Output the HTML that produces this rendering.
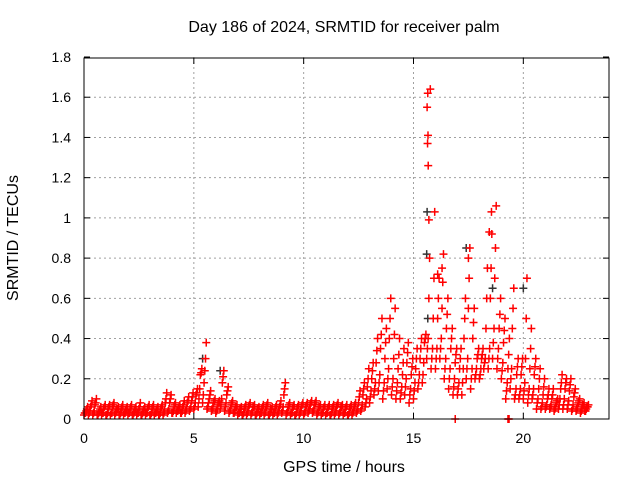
<!DOCTYPE html>
<html><head><meta charset="utf-8"><style>
html,body{margin:0;padding:0;background:#fff}
svg{display:block;font-family:"Liberation Sans",sans-serif}
</style></head><body>
<svg id="chart" width="640" height="480" viewBox="0 0 640 480" xmlns="http://www.w3.org/2000/svg">
<rect width="640" height="480" fill="#fff"/>
<text x="344" y="32" font-size="16" text-anchor="middle" fill="#000">Day 186 of 2024, SRMTID for receiver palm</text>
<g id="grid"></g>
<g id="axes"></g>
<g id="marks"></g>
<rect x="84" y="58" width="525" height="361" fill="none" stroke="#000" stroke-width="1"/>
<text transform="translate(18,238) rotate(-90)" font-size="16" text-anchor="middle">SRMTID / TECUs</text>
<text x="344" y="472" font-size="16" text-anchor="middle">GPS time / hours</text>
</svg>
<script>
const xTicks=[0,5,10,15,20];
const yTicks=[0,0.2,0.4,0.6,0.8,1,1.2,1.4,1.6,1.8];
const yTickLabels=["0","0.2","0.4","0.6","0.8","1","1.2","1.4","1.6","1.8"];
const binStart=0, binStep=0.2;
const lo=[.02,.02,.02,.02,.02, .02,.02,.02,.02,.02, .02,.02,.02,.02,.02, .02,.02,.02,.02,.03, .03,.03,.03,.03,.04,
.05,.06,.08,.05,.04, .03,.05,.04,.03,.03, .02,.02,.02,.02,.02, .02,.02,.02,.02,.02, .03,.02,.02,.02,.02,
.02,.03,.03,.02,.02, .02,.02,.02,.02,.02, .02,.02,.03,.04,.06, .08,.12,.14,.10,.15, .12,.10,.10,.12,.08,
.10,.15,.18,.30,.25, .25,.30,.20,.15,.12, .12,.12,.20,.15,.20, .20,.25,.25,.30,.25, .20,.10,.15,.10,.10,
.10,.08,.10,.05,.05, .05,.05,.04,.05,.05, .05,.04,.04,.03,.04];
const m1=[.03,.03,.03,.02,.03, .02,.03,.03,.02,.03, .03,.02,.03,.02,.03, .02,.03,.02,.03,.04, .03,.04,.03,.04,.05,
.06,.10,.12,.06,.05, .04,.07,.06,.04,.03, .03,.02,.03,.03,.02, .03,.03,.02,.03,.03, .04,.03,.03,.02,.03,
.03,.04,.04,.03,.03, .03,.02,.03,.03,.03, .02,.03,.04,.05,.08, .11,.15,.18,.14,.20, .16,.14,.13,.16,.12,
.14,.18,.22,.35,.30, .30,.35,.25,.20,.16, .15,.18,.25,.20,.22, .22,.28,.30,.38,.30, .24,.14,.20,.12,.12,
.14,.12,.12,.08,.06, .06,.06,.05,.07,.07, .07,.05,.05,.04,.04];
const q1=[.03,.04,.04,.03,.03, .03,.03,.04,.03,.03, .03,.03,.03,.03,.03, .03,.03,.03,.04,.05, .04,.04,.04,.05,.06,
.08,.15,.18,.08,.06, .05,.10,.08,.05,.04, .03,.03,.04,.04,.03, .03,.04,.03,.03,.04, .06,.04,.03,.03,.04,
.04,.05,.05,.04,.03, .03,.03,.04,.04,.03, .03,.04,.05,.07,.10, .14,.18,.22,.18,.25, .20,.18,.16,.20,.15,
.18,.22,.28,.40,.35, .35,.40,.30,.25,.20, .18,.25,.30,.25,.25, .25,.30,.35,.45,.35, .28,.18,.25,.15,.15,
.18,.15,.15,.10,.08, .07,.07,.06,.10,.10, .09,.07,.06,.05,.05];
const q2=[.04,.06,.07,.04,.05, .05,.06,.05,.05,.04, .05,.04,.05,.04,.05, .05,.04,.05,.08,.08, .06,.05,.06,.08,.09,
.12,.22,.24,.10,.08, .07,.18,.12,.07,.06, .05,.05,.06,.06,.05, .05,.06,.05,.05,.06, .12,.06,.05,.05,.06,
.06,.07,.07,.06,.05, .05,.05,.06,.06,.05, .05,.06,.08,.12,.16, .20,.28,.35,.30,.40, .30,.25,.22,.28,.22,
.25,.30,.38,.60,.50, .50,.55,.45,.35,.28, .25,.40,.55,.40,.30, .30,.45,.60,.70,.45, .38,.25,.45,.22,.22,
.30,.25,.22,.15,.12, .10,.10,.08,.15,.15, .14,.11,.08,.07,.06];
const m2=[.05,.07,.08,.05,.06, .06,.07,.05,.06,.05, .06,.05,.06,.05,.06, .06,.05,.06,.10,.10, .07,.06,.07,.09,.11,
.13,.23,.30,.12,.09, .08,.21,.14,.08,.06, .05,.06,.07,.06,.05, .06,.07,.05,.06,.07, .15,.07,.06,.06,.07,
.07,.08,.08,.06,.06, .06,.06,.07,.06,.06, .06,.07,.11,.15,.20, .24,.34,.42,.38,.50, .42,.32,.28,.33,.26,
.30,.35,.40,.80,.70, .60,.68,.52,.40,.32, .30,.50,.70,.48,.32, .32,.60,.75,.85,.52, .44,.32,.55,.26,.26,
.50,.35,.26,.20,.16, .12,.12,.09,.18,.18, .17,.13,.09,.07,.06];
const hi=[.06,.09,.10,.06,.07, .07,.08,.06,.07,.06, .07,.06,.08,.06,.07, .07,.06,.07,.13,.12, .08,.07,.09,.11,.13,
.15,.25,.38,.14,.10, .09,.24,.16,.09,.07, .06,.07,.08,.07,.06, .07,.08,.06,.07,.09, .18,.08,.07,.07,.08,
.08,.09,.09,.07,.07, .07,.07,.08,.07,.07, .07,.08,.14,.18,.25, .28,.40,.50,.45,.60, .55,.40,.35,.38,.30,
.35,.40,.42,1.64,1.03, .70,.82,.60,.45,.35, .35,.60,.85,.55,.35, .35,.75,.92,1.06,.60, .50,.40,.65,.30,.30,
.70,.45,.30,.25,.20, .15,.15,.10,.22,.20, .20,.15,.10,.08,.07];
const spikeT=[15.65,15.62,15.66,15.64,15.67,15.7,18.55,18.45,17.5,16.3,16.1,16.9,19.3,19.35];
const spikeV=[1.62,1.55,1.41,1.37,1.26,0.99,1.03,0.93,0.80,0.75,0.72,0,0,0];
const blackT=[15.6,15.62,17.4,18.6,20.0,6.2,5.4,15.65];
const blackV=[0.82,1.03,0.85,0.65,0.65,0.24,0.30,0.50];

const X0=84,X1=609,Y0=419,Y1=57,XMAX=23.9,YMAX=1.8;
const sx=t=>X0+(t/XMAX)*(X1-X0);
const sy=v=>Y0-(v/YMAX)*(Y0-Y1);
const NS="http://www.w3.org/2000/svg";
function mk(tag,attrs,parent){const e=document.createElementNS(NS,tag);for(const k in attrs)e.setAttribute(k,attrs[k]);parent.appendChild(e);return e;}
const grid=document.getElementById('grid'),axes=document.getElementById('axes'),marks=document.getElementById('marks');
xTicks.forEach(t=>{
  const x=sx(t);
  if(t>0){const g=mk('line',{x1:x,x2:x,y1:Y1,y2:Y0,stroke:'#a0a0a0','stroke-dasharray':'2,3'},grid);
  
  }
  mk('line',{x1:x,x2:x,y1:Y0,y2:Y0-6,stroke:'#000'},axes);
  mk('line',{x1:x,x2:x,y1:Y1+1,y2:Y1+7,stroke:'#000'},axes);
  const l=mk('text',{x:x,y:443,'font-size':14,'text-anchor':'middle'},axes);
  l.textContent=String(t);
  
  
});
yTicks.forEach((v,i)=>{
  const y=sy(v);
  if(v>0&&v<YMAX){const g=mk('line',{x1:X0,x2:X1,y1:y,y2:y,stroke:'#a0a0a0','stroke-dasharray':'2,3'},grid);
  
  }
  mk('line',{x1:X0,x2:X0+6,y1:y,y2:y,stroke:'#000'},axes);
  mk('line',{x1:X1-6,x2:X1,y1:y,y2:y,stroke:'#000'},axes);
  const l=mk('text',{x:71,y:y+5,'font-size':14,'text-anchor':'end'},axes);
  l.textContent=yTickLabels[i];
  
  
});
function plus(t,v,col,name){
  const x=sx(t),y=sy(v);
  const p=mk('path',{d:`M${x-4},${y}H${x+4}M${x},${y-4}V${y+4}`,stroke:col,'stroke-width':1.5,fill:'none'},marks);
  
  
}
blackT.forEach((t,i)=>plus(t,blackV[i],'#333','point-black'));
[lo,m1,q1,q2,m2,hi].forEach((arr,k)=>{
  arr.forEach((v,i)=>{plus(binStart+i*binStep+k*0.033,v,'#ff0000','point-red');});
});
spikeT.forEach((t,i)=>plus(t,spikeV[i],'#ff0000','point-spike'));
</script>
</body></html>
